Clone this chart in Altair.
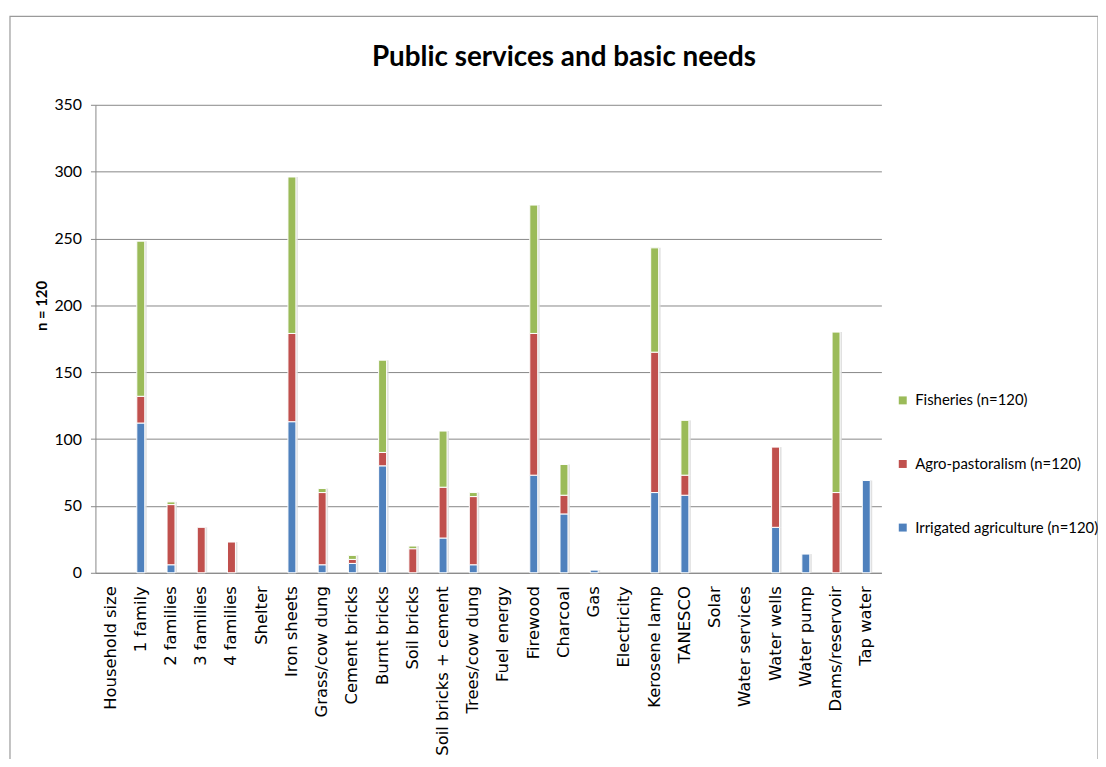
import altair as alt
import pandas as pd

categories = ["Household size", "1 family", "2 families", "3 families", "4 families",
              "Shelter", "Iron sheets", "Grass/cow dung", "Cement bricks", "Burnt bricks",
              "Soil bricks", "Soil bricks + cement", "Trees/cow dung", "Fuel energy",
              "Firewood", "Charcoal", "Gas", "Electricity", "Kerosene lamp", "TANESCO",
              "Solar", "Water services", "Water wells", "Water pump", "Dams/reservoir",
              "Tap water"]
irrigated = [0, 112, 6, 0, 0, 0, 113, 6, 7, 80, 0, 26, 6, 0, 73, 44, 2, 0, 60, 58, 0, 0, 34, 14, 0, 69]
agro      = [0, 20, 45, 34, 23, 0, 66, 54, 3, 10, 18, 38, 51, 0, 106, 14, 0, 0, 105, 15, 0, 0, 60, 0, 60, 0]
fisheries = [0, 116, 2, 0, 0, 0, 117, 3, 3, 69, 2, 42, 3, 0, 96, 23, 0, 0, 78, 41, 0, 0, 0, 0, 120, 0]

series_names = ["Irrigated agriculture (n=120)", "Agro-pastoralism (n=120)", "Fisheries (n=120)"]
legend_order = ["Fisheries (n=120)", "Agro-pastoralism (n=120)", "Irrigated agriculture (n=120)"]
legend_colors = ["#9BBB59", "#C0504D", "#4F81BD"]
y_ticks = [0, 50, 100, 150, 200, 250, 300, 350]
title_text = "Public services and basic needs"
y_title = "n = 120"

rows = []
for i, cat in enumerate(categories):
    for s, (name, vals) in enumerate(zip(series_names, [irrigated, agro, fisheries])):
        rows.append({"category": cat, "series": name, "value": vals[i], "ord": s})
df = pd.DataFrame(rows)

W, H = 791, 471
GRID = "#878787"

x_enc = alt.X("category:N", sort=categories,
              scale=alt.Scale(domain=categories, paddingInner=0, paddingOuter=0),
              axis=alt.Axis(title=None, labelAngle=-90, labelAlign="right", labelBaseline="middle",
                            labelFont="DejaVu Sans", labelFontSize=16.5, labelColor="black",
                            labelPadding=13, labelLimit=400, ticks=False,
                            domainColor=GRID, domainWidth=1))
y_enc = alt.Y("value:Q", stack="zero",
              scale=alt.Scale(domain=[0, 350], nice=False),
              axis=alt.Axis(values=y_ticks, grid=True, gridColor=GRID, gridWidth=1,
                            labelFont="Lato", labelFontSize=16, labelColor="black",
                            labelPadding=9, tickSize=5, tickColor=GRID,
                            domainColor=GRID, domainWidth=1,
                            title=y_title, titleFont="Lato", titleFontSize=15,
                            titleFontWeight="bold", titleColor="black", titleAngle=270,
                            titleX=-54, titleY=202, titleAlign="center", titleBaseline="middle"))
order_enc = alt.Order("ord:Q", sort="ascending")

border = alt.Chart(alt.Data(values=[{"a": 1}])).mark_rect(
    fillOpacity=0, stroke="#9a9a9a", strokeWidth=1.2
).encode(x=alt.value(-86), x2=alt.value(1009), y=alt.value(-89), y2=alt.value(700))

shadow = alt.Chart(df).transform_filter("datum.value > 0").mark_bar(
    size=10, color="#d9d9d9", opacity=0.8, xOffset=1
).encode(x=x_enc, y=y_enc, order=order_enc)

bars = alt.Chart(df).transform_filter("datum.value > 0").mark_bar(
    size=8, stroke="white", strokeWidth=1
).encode(
    x=x_enc, y=y_enc, order=order_enc,
    color=alt.Color("series:N",
                    scale=alt.Scale(domain=legend_order, range=legend_colors),
                    legend=alt.Legend(title=None, orient="none", legendX=805, legendY=290,
                                      symbolType="square", symbolSize=64, symbolStrokeWidth=0,
                                      labelFont="Lato", labelFontSize=15, labelColor="black",
                                      labelOffset=5, rowPadding=48, padding=0, labelLimit=300))
)

chart = alt.layer(border, shadow, bars).properties(
    width=W, height=H,
    padding={"left": 88, "top": 95, "right": 218, "bottom": 185},
    autosize=alt.AutoSizeParams(type="none"),
    title=alt.TitleParams(text=title_text, font="Lato", fontSize=28, fontWeight="bold",
                          color="black", anchor="middle", dx=76, offset=-79,
                          baseline="alphabetic"),
).configure_view(stroke=None)

chart.save("out.html", embed_options={"renderer": "svg", "actions": False})
